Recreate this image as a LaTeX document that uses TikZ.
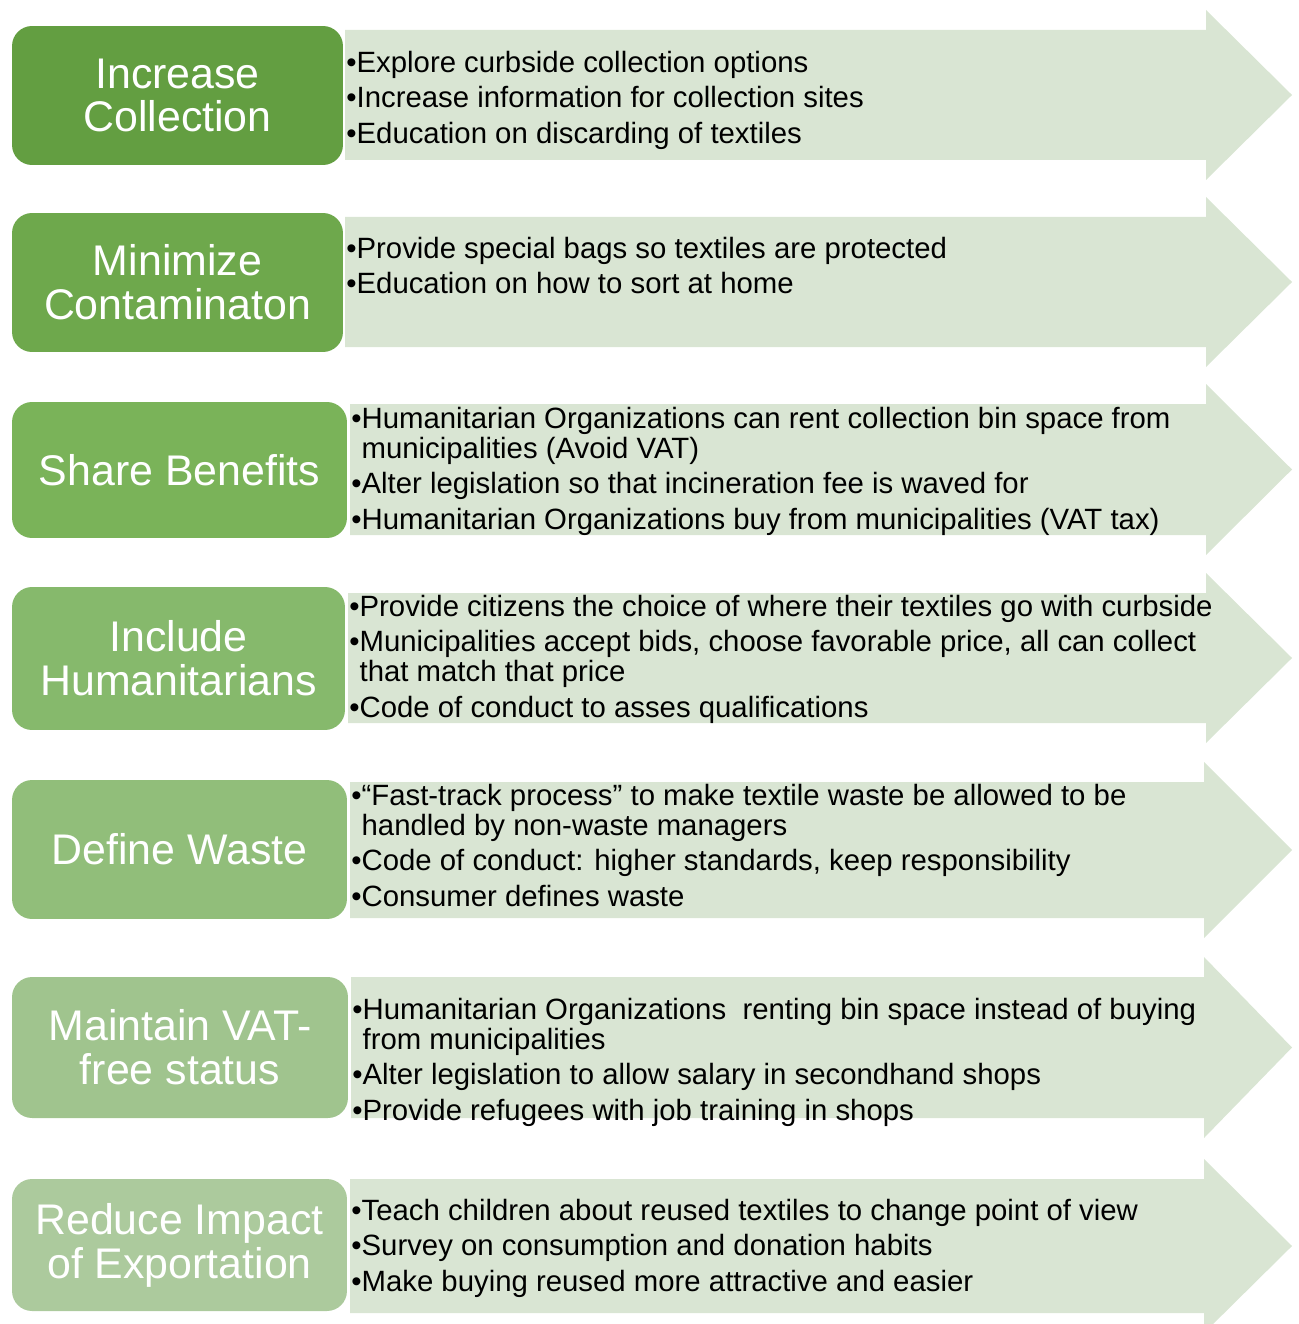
\documentclass[tikz,border=0pt]{standalone}
\usepackage{fontspec}
\setmainfont{Liberation Sans}
\definecolor{stage1}{RGB}{99,158,65}
\definecolor{stage2}{RGB}{110,168,76}
\definecolor{stage3}{RGB}{122,179,89}
\definecolor{stage4}{RGB}{134,185,108}
\definecolor{stage5}{RGB}{145,190,122}
\definecolor{stage6}{RGB}{160,196,142}
\definecolor{stage7}{RGB}{172,202,157}
\definecolor{bandgreen}{RGB}{217,229,211}
\newcommand{\bul}{\textbullet}
\newcommand{\ind}{\phantom{\textbullet}}
\newcommand{\topline}{\rule{0pt}{11.9pt}}
\newcommand{\pointfont}{\fontsize{16.7pt}{17pt}\selectfont\lineskiplimit=-10pt\relax}
\tikzset{
  stage/.style={rounded corners=0.4cm, text=white, align=center, inner sep=0pt,
    font=\fontsize{24.4pt}{25pt}\selectfont},
  band/.style={fill=bandgreen},
  points/.style={anchor=north west, align=left, inner sep=0pt, font=\pointfont}
}
\begin{document}
\begin{tikzpicture}[x=0.02cm, y=-0.02cm]
    \useasboundingbox (0,0) rectangle (1298,1324);

    % arrows
    \fill [band] (345,30) -- (1206,30) -- (1206,10) -- (1292,95) -- (1206,180) -- (1206,160) -- (345,160) -- cycle;
    \fill [band] (345,217) -- (1206,217) -- (1206,197) -- (1292,282) -- (1206,367) -- (1206,347) -- (345,347) -- cycle;
    \fill [band] (350,404) -- (1206,404) -- (1206,384) -- (1292,469.5) -- (1206,555) -- (1206,535) -- (350,535) -- cycle;
    \fill [band] (348,593) -- (1206,593) -- (1206,573) -- (1292,658) -- (1206,743) -- (1206,723) -- (348,723) -- cycle;
    \fill [band] (350,782) -- (1204,782) -- (1204,762) -- (1292,850) -- (1204,938) -- (1204,918) -- (350,918) -- cycle;
    \fill [band] (351,977) -- (1204,977) -- (1204,957) -- (1292,1047.5) -- (1204,1138) -- (1204,1118) -- (351,1118) -- cycle;
    \fill [band] (350,1179) -- (1204,1179) -- (1204,1159) -- (1292,1246) -- (1204,1333) -- (1204,1313) -- (350,1313) -- cycle;

    % stages
    \node [stage, fill=stage1, minimum width=6.62cm, minimum height=2.78cm] (collect) at (177.5,95.5) {Increase\\Collection};
    \node [stage, fill=stage2, minimum width=6.62cm, minimum height=2.78cm] (contam) at (177.5,282.5) {Minimize\\Contaminaton};
    \node [stage, fill=stage3, minimum width=6.7cm, minimum height=2.72cm] (benefit) at (179.5,470) {Share Benefits};
    \node [stage, fill=stage4, minimum width=6.66cm, minimum height=2.86cm] (human) at (178.5,658.5) {Include\\Humanitarians};
    \node [stage, fill=stage5, minimum width=6.7cm, minimum height=2.78cm] (waste) at (179.5,849.5) {Define Waste};
    \node [stage, fill=stage6, minimum width=6.72cm, minimum height=2.82cm] (vat) at (180,1047.5) {Maintain VAT-\\free status};
    \node [stage, fill=stage7, minimum width=6.7cm, minimum height=2.64cm] (export) at (179.5,1245) {Reduce Impact\\of Exportation};

    % bullet points
    \node [points] (collectpts) at (346,51) {\topline\bul Explore curbside collection options\\[0.11cm]
      \bul Increase information for collection sites\\[0.11cm]
      \bul Education on discarding of textiles};
    \node [points] (contampts) at (346,237) {\topline\bul Provide special bags so textiles are protected\\[0.11cm]
      \bul Education on how to sort at home};
    \node [points] (benefitpts) at (351,407) {\topline\bul Humanitarian Organizations can rent collection bin space from\\
      \ind municipalities (Avoid VAT)\\[0.11cm]
      \bul Alter legislation so that incineration fee is waved for\\[0.11cm]
      \bul Humanitarian Organizations buy from municipalities (VAT tax)};
    \node [points] (humanpts) at (349,595) {\topline\bul Provide citizens the choice of where their textiles go with curbside\\[0.11cm]
      \bul Municipalities accept bids, choose favorable price, all can collect\\
      \ind that match that price\\[0.11cm]
      \bul Code of conduct to asses qualifications};
    \node [points] (wastepts) at (351,784) {\topline\bul “Fast-track process” to make textile waste be allowed to be\\
      \ind handled by non-waste managers\\[0.11cm]
      \bul Code of conduct: higher standards, keep responsibility\\[0.11cm]
      \bul Consumer defines waste};
    \node [points] (vatpts) at (352,998) {\topline\bul Humanitarian Organizations\ \ renting bin space instead of buying\\
      \ind from municipalities\\[0.11cm]
      \bul Alter legislation to allow salary in secondhand shops\\[0.11cm]
      \bul Provide refugees with job training in shops};
    \node [points] (exportpts) at (351,1199) {\topline\bul Teach children about reused textiles to change point of view\\[0.11cm]
      \bul Survey on consumption and donation habits\\[0.11cm]
      \bul Make buying reused more attractive and easier};
\end{tikzpicture}
\end{document}
